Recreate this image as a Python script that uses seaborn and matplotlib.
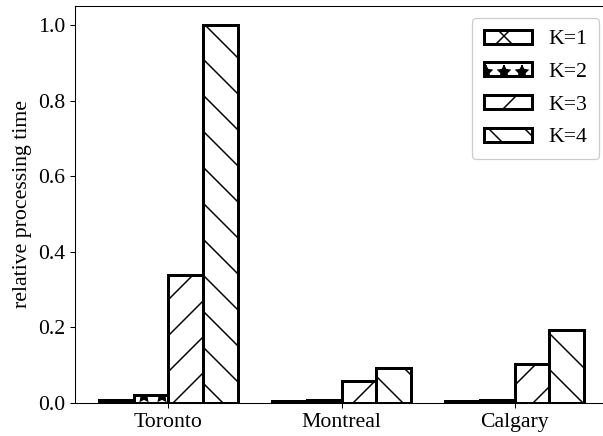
import numpy as np
import pandas as pd
import seaborn as sns
import matplotlib.pyplot as plt
from matplotlib.patches import Patch

# values
cities = ['Toronto', 'Montreal', 'Calgary']
k_labels = ['K=1', 'K=2', 'K=3', 'K=4']
k1 = [0.008, 0.005, 0.005]
k2 = [0.022, 0.007, 0.008]
k3 = [0.338, 0.057, 0.103]
k4 = [1.000, 0.093, 0.193]
hatches = ['x', '*', '/', '\\']

rows = []
for lab, vals in zip(k_labels, [k1, k2, k3, k4]):
    for c, v in zip(cities, vals):
        rows.append({'city': c, 'K': lab, 'time': v})
df = pd.DataFrame(rows)

plt.rcParams['font.family'] = ['Liberation Serif', 'DejaVu Serif']
plt.rcParams['hatch.linewidth'] = 1.0

DPI = 108
FS = 14.5
fig, ax = plt.subplots(figsize=(603 / DPI, 436 / DPI), dpi=DPI)
# right edge of the axes runs past the picture, as in the reference
fig.subplots_adjust(left=75 / 603, right=608 / 603, bottom=33 / 436, top=430 / 436)

sns.barplot(data=df, x='city', y='time', hue='K', order=cities, hue_order=k_labels,
            palette=['white'] * 4, edgecolor='black', linewidth=2.0,
            errorbar=None, ax=ax, legend=False)

for cont, h in zip(ax.containers, hatches):
    for bar in cont:
        bar.set_hatch(h)

handles = [Patch(facecolor='white', edgecolor='black', linewidth=2.0, hatch=h, label=l)
           for h, l in zip(hatches, k_labels)]
leg = ax.legend(handles=handles, loc='upper right', bbox_to_anchor=(0.983, 0.97),
                borderaxespad=0, fontsize=FS, handlelength=2.2, handleheight=0.6,
                handletextpad=0.75, labelspacing=0.6, borderpad=0.55,
                framealpha=1, edgecolor='#cccccc')
leg.get_frame().set_linewidth(0.8)

ax.set_xlim(-0.54, 2.54)
ax.set_ylim(0, 1.05)
ax.set_yticks(np.arange(0, 1.01, 0.2))
ax.set_xlabel('')
ax.set_ylabel('relative processing time', fontsize=FS, labelpad=4)
ax.tick_params(labelsize=FS, length=3.5, width=0.7, pad=3)
for s in ax.spines.values():
    s.set_linewidth(0.7)

plt.savefig('out.png', dpi=DPI)
plt.close()
